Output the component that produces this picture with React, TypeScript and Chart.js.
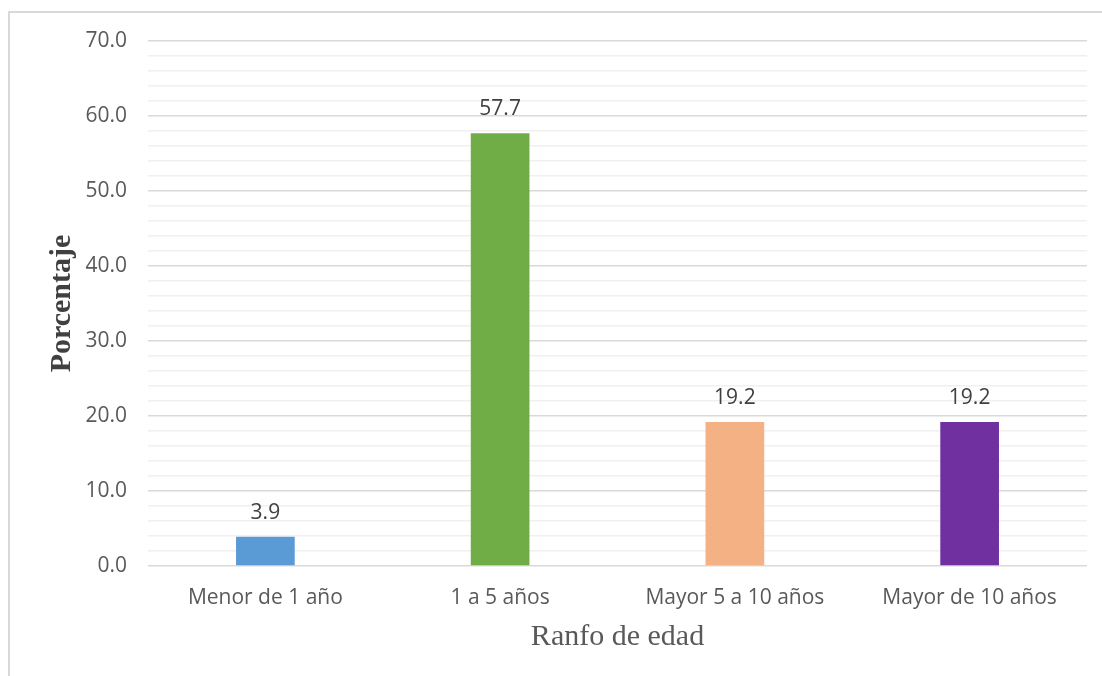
import React, { useEffect, useRef } from "react";
import { Chart, registerables } from "chart.js";

Chart.register(...registerables);

// Age ranges and the share (%) of cases in each
const categories: string[] = ["Menor de 1 año", "1 a 5 años", "Mayor 5 a 10 años", "Mayor de 10 años"];
const percentages: number[] = [3.9, 57.7, 19.2, 19.2];
const barColors: string[] = ["#5B9BD5", "#70AD47", "#F4B183", "#7030A0"];

const yTitle = "Porcentaje";
const xTitle = "Ranfo de edad";
const yMin = 0;
const yMax = 70;
const yMinorStep = 2;
const yMajorStep = 10;

const SANS = "'Open Sans', sans-serif";
const SERIF = "'Liberation Serif', 'Times New Roman', serif";

// Writes each bar's value above it
const valueLabels = {
  id: "valueLabels",
  afterDatasetsDraw(chart: Chart) {
    const { ctx } = chart;
    chart.data.datasets.forEach((ds, i) => {
      const meta = chart.getDatasetMeta(i);
      meta.data.forEach((bar: any, j: number) => {
        const v = ds.data[j] as number;
        ctx.save();
        ctx.font = `21px ${SANS}`;
        ctx.fillStyle = "#404040";
        ctx.textAlign = "center";
        ctx.textBaseline = "middle";
        ctx.fillText(v.toFixed(1), bar.x, bar.y - 24);
        ctx.restore();
      });
    });
  },
};

export default function App() {
  const canvasRef = useRef<HTMLCanvasElement | null>(null);

  useEffect(() => {
    if (!canvasRef.current) return;
    const chart = new Chart(canvasRef.current, {
      type: "bar",
      data: {
        labels: categories,
        datasets: [
          {
            data: percentages,
            backgroundColor: barColors,
            borderWidth: 0,
            barPercentage: 0.25,
            categoryPercentage: 1,
          },
        ],
      },
      options: {
        animation: false,
        responsive: false,
        devicePixelRatio: 1,
        layout: { padding: { top: 28, right: 15, bottom: 0, left: 0 } },
        plugins: {
          legend: { display: false },
          tooltip: { enabled: false },
        },
        scales: {
          x: {
            grid: { display: false, drawTicks: false },
            border: { display: false },
            ticks: {
              color: "#595959",
              font: { family: SANS, size: 21 },
              padding: 19,
              maxRotation: 0,
            },
            title: {
              display: true,
              text: xTitle,
              color: "#595959",
              font: { family: SERIF, size: 30 },
              padding: { top: 0, bottom: 21 },
            },
            afterFit: (scale: any) => {
              scale.height = 110;
            },
          },
          y: {
            min: yMin,
            max: yMax,
            border: { display: false },
            grid: {
              drawTicks: false,
              color: (c: any) => (c.tick && c.tick.value % yMajorStep === 0 ? "#d9d9d9" : "#f0f0f0"),
              lineWidth: 1.6,
            },
            ticks: {
              stepSize: yMinorStep,
              autoSkip: false,
              color: "#595959",
              font: { family: SANS, size: 21 },
              padding: 21,
              callback: (v: any) => (Number(v) % yMajorStep === 0 ? Number(v).toFixed(1) : ""),
            },
            title: {
              display: true,
              text: yTitle,
              color: "#404040",
              font: { family: SERIF, size: 30, weight: "bold" },
              padding: { top: 34, bottom: 0 },
            },
            afterFit: (scale: any) => {
              scale.width = 138;
              scale.paddingTop = 0;
              scale.paddingBottom = 0;
            },
          },
        },
      },
      plugins: [valueLabels],
    });
    return () => chart.destroy();
  }, []);

  return (
    <div
      style={{
        position: "fixed",
        left: 8,
        top: 11,
        width: 1094,
        height: 665,
        boxSizing: "border-box",
        borderTop: "2px solid #d9d9d9",
        borderLeft: "2px solid #d9d9d9",
        background: "#ffffff",
        overflow: "hidden",
      }}
    >
      <canvas ref={canvasRef} width={1092} height={663} style={{ display: "block" }} />
    </div>
  );
}
